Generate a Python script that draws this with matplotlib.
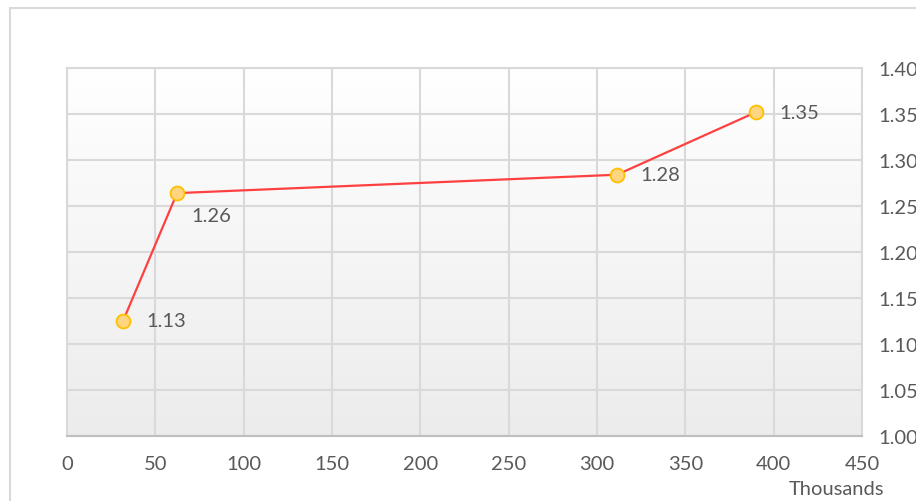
import numpy as np
import matplotlib
matplotlib.use("Agg")
import matplotlib.pyplot as plt
from matplotlib.patches import Rectangle

# values (x in thousands)
x_vals = [31.7, 62.3, 311.3, 390.0]
y_vals = [1.125, 1.264, 1.284, 1.352]
point_labels = ["1.13", "1.26", "1.28", "1.35"]
x_ticks = [0, 50, 100, 150, 200, 250, 300, 350, 400, 450]
y_ticks = [1.00, 1.05, 1.10, 1.15, 1.20, 1.25, 1.30, 1.35, 1.40]

plt.rcParams['font.family'] = ['Lato', 'DejaVu Sans']
text_col = "#595959"
grid_col = "#d9d9d9"
fs = 14.5

fig = plt.figure(figsize=(9.16, 5.02), dpi=100)
fig.patches.append(Rectangle((10 / 916, -0.1), 1.2, (502 - 9) / 502 + 0.1,
                             transform=fig.transFigure, fill=False,
                             edgecolor=grid_col, linewidth=1.5))

ax = fig.add_axes([67 / 916, 65 / 502, (862 - 67) / 916, (437 - 69) / 502])
ax.set_xlim(0, 450)
ax.set_ylim(1.00, 1.40)

# gradient background of the plot area
grad = np.linspace(0, 1, 256).reshape(-1, 1)
ax.imshow(grad, extent=[0, 450, 1.00, 1.40], aspect='auto', origin='upper',
          cmap=matplotlib.colors.LinearSegmentedColormap.from_list(
              'bg', ['#ffffff', '#ececec']), zorder=0)

ax.set_xticks(x_ticks)
ax.set_yticks(y_ticks)
ax.set_yticklabels(["%.2f" % v for v in y_ticks])
ax.yaxis.tick_right()
ax.grid(True, color=grid_col, linewidth=1.5, zorder=1)
ax.tick_params(length=0, labelsize=fs, colors=text_col)
ax.tick_params(axis='x', pad=14)
ax.tick_params(axis='y', pad=12)
for s in ax.spines.values():
    s.set_color(grid_col)
    s.set_linewidth(1.5)
ax.spines['bottom'].set_color('#bfbfbf')

ax.plot(x_vals, y_vals, color="#ff4040", linewidth=1.6, marker='o',
        markersize=10, markerfacecolor="#ffd580", markeredgecolor="#ffc000",
        markeredgewidth=1.3, zorder=3, clip_on=False)

offsets = [(17, 0), (10, -16), (17, 0), (17, 0)]
for xv, yv, lab, off in zip(x_vals, y_vals, point_labels, offsets):
    ax.annotate(lab, (xv, yv), xytext=off, textcoords='offset points',
                ha='left', va='center', fontsize=fs, color=text_col)

fig.text(884 / 916, 1 - 490 / 502, "Thousands", ha='right', va='center',
         fontsize=fs, color=text_col)

fig.savefig("out.png", dpi=100)
